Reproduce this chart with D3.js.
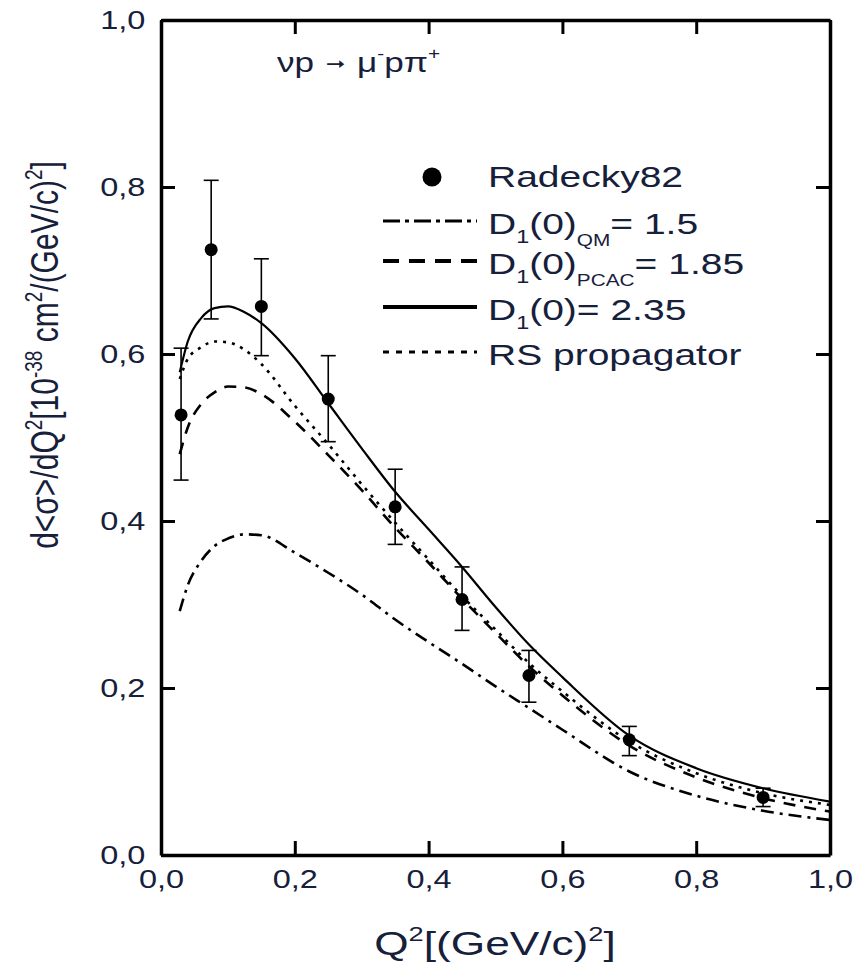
<!DOCTYPE html>
<html lang="en">

<head>
  <meta charset="UTF-8" />
  <title>dsigma/dQ2 nu p -> mu- p pi+</title>
  <style>
    body {
      margin: 0;
      background: #fff;
    }

    text {
      font-family: "Liberation Sans", Arial, sans-serif;
      fill: #16203a;
    }

    .axis path,
    .axis line {
      stroke: #000;
    }
  </style>
</head>

<body>
  <div class="chart"></div>
  <script src="https://cdn.jsdelivr.net/npm/d3@7/dist/d3.min.js"></script>
  <script>
    // Radecky82 data points
    var q2 = [0.03, 0.075, 0.15, 0.25, 0.35, 0.45, 0.55, 0.70, 0.90];
    var sigma = [0.527, 0.725, 0.657, 0.546, 0.417, 0.306, 0.215, 0.138, 0.069];
    var errHigh = [0.607, 0.808, 0.714, 0.598, 0.462, 0.345, 0.245, 0.154, 0.080];
    var errLow = [0.449, 0.642, 0.598, 0.495, 0.372, 0.269, 0.183, 0.119, 0.058];

    var grid = [0.028, 0.04, 0.06, 0.08, 0.10, 0.125, 0.15, 0.20, 0.25, 0.30,
      0.35, 0.40, 0.45, 0.50, 0.55, 0.60, 0.70, 0.80, 0.90, 1.00];
    var qm = [0.292, 0.323, 0.352, 0.370, 0.379, 0.384, 0.383, 0.362, 0.338, 0.312,
      0.282, 0.255, 0.229, 0.202, 0.176, 0.150, 0.100, 0.071, 0.053, 0.042];
    var pcac = [0.480, 0.512, 0.540, 0.554, 0.561, 0.560, 0.552, 0.519, 0.479, 0.437,
      0.392, 0.350, 0.307, 0.266, 0.226, 0.191, 0.131, 0.093, 0.068, 0.052];
    var d235 = [0.578, 0.615, 0.643, 0.655, 0.657, 0.650, 0.637, 0.595, 0.541, 0.487,
      0.435, 0.390, 0.345, 0.297, 0.252, 0.213, 0.143, 0.104, 0.080, 0.064];
    var rs = [0.570, 0.594, 0.608, 0.615, 0.614, 0.605, 0.588, 0.538, 0.492, 0.444,
      0.398, 0.354, 0.310, 0.270, 0.230, 0.196, 0.136, 0.098, 0.074, 0.060];

    var ticks = [0, 0.2, 0.4, 0.6, 0.8, 1.0];

    var w = 854,
      h = 969;
    var sx = 1.3; // the picture is stretched sideways, text too

    var svg = d3.select(".chart").append("svg")
      .attr("width", w)
      .attr("height", h);

    var x = d3.scaleLinear().domain([0, 1]).range([161, 830]);
    var y = d3.scaleLinear().domain([0, 1]).range([855, 20]);

    var fmt = function(d) {
      return d3.format(".1f")(d).replace(".", ",");
    };

    // axes, ticks pointing in
    var bottom = svg.append("g")
      .attr("class", "axis")
      .attr("transform", "translate(0," + y(0) + ")")
      .call(d3.axisBottom(x).tickValues(ticks).tickSizeInner(-14).tickSizeOuter(0).tickPadding(15).tickFormat(fmt));
    var left = svg.append("g")
      .attr("class", "axis")
      .attr("transform", "translate(" + x(0) + ",0)")
      .call(d3.axisLeft(y).tickValues(ticks).tickSizeInner(-14).tickSizeOuter(0).tickPadding(12).tickFormat(fmt));
    svg.append("g")
      .attr("class", "axis")
      .attr("transform", "translate(0," + y(1) + ")")
      .call(d3.axisTop(x).tickValues(ticks).tickSizeInner(-14).tickSizeOuter(0).tickFormat(""));
    svg.append("g")
      .attr("class", "axis")
      .attr("transform", "translate(" + x(1) + ",0)")
      .call(d3.axisRight(y).tickValues(ticks).tickSizeInner(-14).tickSizeOuter(0).tickFormat(""));

    svg.selectAll(".axis path").attr("stroke-width", 3.5);
    svg.selectAll(".axis line").attr("stroke-width", 3);
    svg.selectAll(".axis text")
      .attr("font-size", "25px")
      .attr("font-family", "'Liberation Sans', Arial, sans-serif")
      .attr("fill", "#16203a");
    bottom.selectAll("text").attr("transform", "scale(" + sx + ",1)");
    left.selectAll("text").attr("transform", "scale(" + sx + ",1)");

    // curves
    var line = d3.line()
      .x(function(d) { return x(d[0]); })
      .y(function(d) { return y(d[1]); })
      .curve(d3.curveMonotoneX);

    var curves = [
      { vals: qm, dash: "13,6,3,6", width: 2.6 },
      { vals: pcac, dash: "12,9", width: 2.6 },
      { vals: rs, dash: "3,6", width: 2.6 },
      { vals: d235, dash: null, width: 2.2 }
    ];

    curves.forEach(function(c) {
      svg.append("path")
        .datum(d3.zip(grid, c.vals))
        .attr("d", line)
        .attr("fill", "none")
        .attr("stroke", "#000")
        .attr("stroke-width", c.width)
        .attr("stroke-dasharray", c.dash);
    });

    // error bars
    var pts = d3.range(q2.length);
    var bars = svg.append("g").attr("stroke", "#000").attr("stroke-width", 1.6);
    bars.selectAll(".vbar")
      .data(pts)
      .enter()
      .append("line")
      .attr("x1", function(i) { return x(q2[i]); })
      .attr("x2", function(i) { return x(q2[i]); })
      .attr("y1", function(i) { return y(errLow[i]); })
      .attr("y2", function(i) { return y(errHigh[i]); });
    bars.selectAll(".cap-hi")
      .data(pts)
      .enter()
      .append("line")
      .attr("x1", function(i) { return x(q2[i]) - 7.5; })
      .attr("x2", function(i) { return x(q2[i]) + 7.5; })
      .attr("y1", function(i) { return y(errHigh[i]); })
      .attr("y2", function(i) { return y(errHigh[i]); });
    bars.selectAll(".cap-lo")
      .data(pts)
      .enter()
      .append("line")
      .attr("x1", function(i) { return x(q2[i]) - 7.5; })
      .attr("x2", function(i) { return x(q2[i]) + 7.5; })
      .attr("y1", function(i) { return y(errLow[i]); })
      .attr("y2", function(i) { return y(errLow[i]); });

    svg.selectAll("circle.pt")
      .data(pts)
      .enter()
      .append("circle")
      .attr("class", "pt")
      .attr("cx", function(i) { return x(q2[i]); })
      .attr("cy", function(i) { return y(sigma[i]); })
      .attr("r", 6.5)
      .attr("fill", "#000");

    // helper for stretched text
    function label(px, py, size) {
      return svg.append("text")
        .attr("transform", "translate(" + px + "," + py + ") scale(" + sx + ",1)")
        .attr("font-size", size + "px");
    }

    function sub(t, str, size, shift) {
      t.append("tspan").attr("font-size", size + "px").attr("dy", shift).text(str);
    }

    // reaction
    var r = label(277, 72, 27);
    r.append("tspan").text("νp");
    r.append("tspan").text("➞").attr("font-size", "18px")
      .attr("font-family", "'DejaVu Sans', sans-serif").attr("dx", 9).attr("dy", -2);
    r.append("tspan").text("μ").attr("dx", 9).attr("dy", 2);
    r.append("tspan").text("-").attr("font-size", "16px").attr("dy", -13);
    r.append("tspan").text("pπ").attr("dy", 13);
    r.append("tspan").text("+").attr("font-size", "16px").attr("dy", -13);

    // legend
    svg.append("circle")
      .attr("cx", 432)
      .attr("cy", 177)
      .attr("r", 9.5)
      .attr("fill", "#000");
    label(488, 187, 30).text("Radecky82");

    var legRows = [
      { y: 221, dash: "17,5,4,5", width: 3.2, sub: "QM", val: "= 1.5" },
      { y: 261, dash: "16,10", width: 4, sub: "PCAC", val: "= 1.85" },
      { y: 307, dash: null, width: 4, sub: "", val: "= 2.35" },
      { y: 352, dash: "6,7", width: 3, sub: null, val: "RS propagator" }
    ];

    legRows.forEach(function(row) {
      svg.append("line")
        .attr("x1", 383)
        .attr("x2", 477)
        .attr("y1", row.y)
        .attr("y2", row.y)
        .attr("stroke", "#000")
        .attr("stroke-width", row.width)
        .attr("stroke-dasharray", row.dash);

      var t = label(488, row.y + 13, 30);
      if (row.sub === null) {
        t.text(row.val);
        return;
      }
      t.append("tspan").text("D");
      sub(t, "1", 18, 9);
      t.append("tspan").attr("dy", -9).text("(0)");
      if (row.sub) {
        sub(t, row.sub, 16, 12);
        t.append("tspan").attr("dy", -12).text(row.val);
      } else {
        t.append("tspan").text(row.val);
      }
    });

    // axis titles
    var xt = svg.append("text")
      .attr("transform", "translate(495,955) scale(" + sx + ",1)")
      .attr("text-anchor", "middle")
      .attr("font-size", "34px");
    xt.append("tspan").text("Q");
    xt.append("tspan").text("2").attr("font-size", "21px").attr("dy", -14);
    xt.append("tspan").text("[(GeV/c)").attr("dy", 14);
    xt.append("tspan").text("2").attr("font-size", "21px").attr("dy", -14);
    xt.append("tspan").text("]").attr("dy", 14);

    var yt = svg.append("text")
      .attr("transform", "translate(58,355) scale(" + sx + ",1) rotate(-90)")
      .attr("text-anchor", "middle")
      .attr("font-size", "30px");
    yt.append("tspan").text("d<σ>/dQ");
    yt.append("tspan").text("2").attr("font-size", "19px").attr("dy", -12);
    yt.append("tspan").text("[10").attr("dy", 12);
    yt.append("tspan").text("-38").attr("font-size", "19px").attr("dy", -12);
    yt.append("tspan").text(" cm").attr("dy", 12);
    yt.append("tspan").text("2").attr("font-size", "19px").attr("dy", -12);
    yt.append("tspan").text("/(GeV/c)").attr("dy", 12);
    yt.append("tspan").text("2").attr("font-size", "19px").attr("dy", -12);
    yt.append("tspan").text("]").attr("dy", 12);
  </script>
</body>

</html>
